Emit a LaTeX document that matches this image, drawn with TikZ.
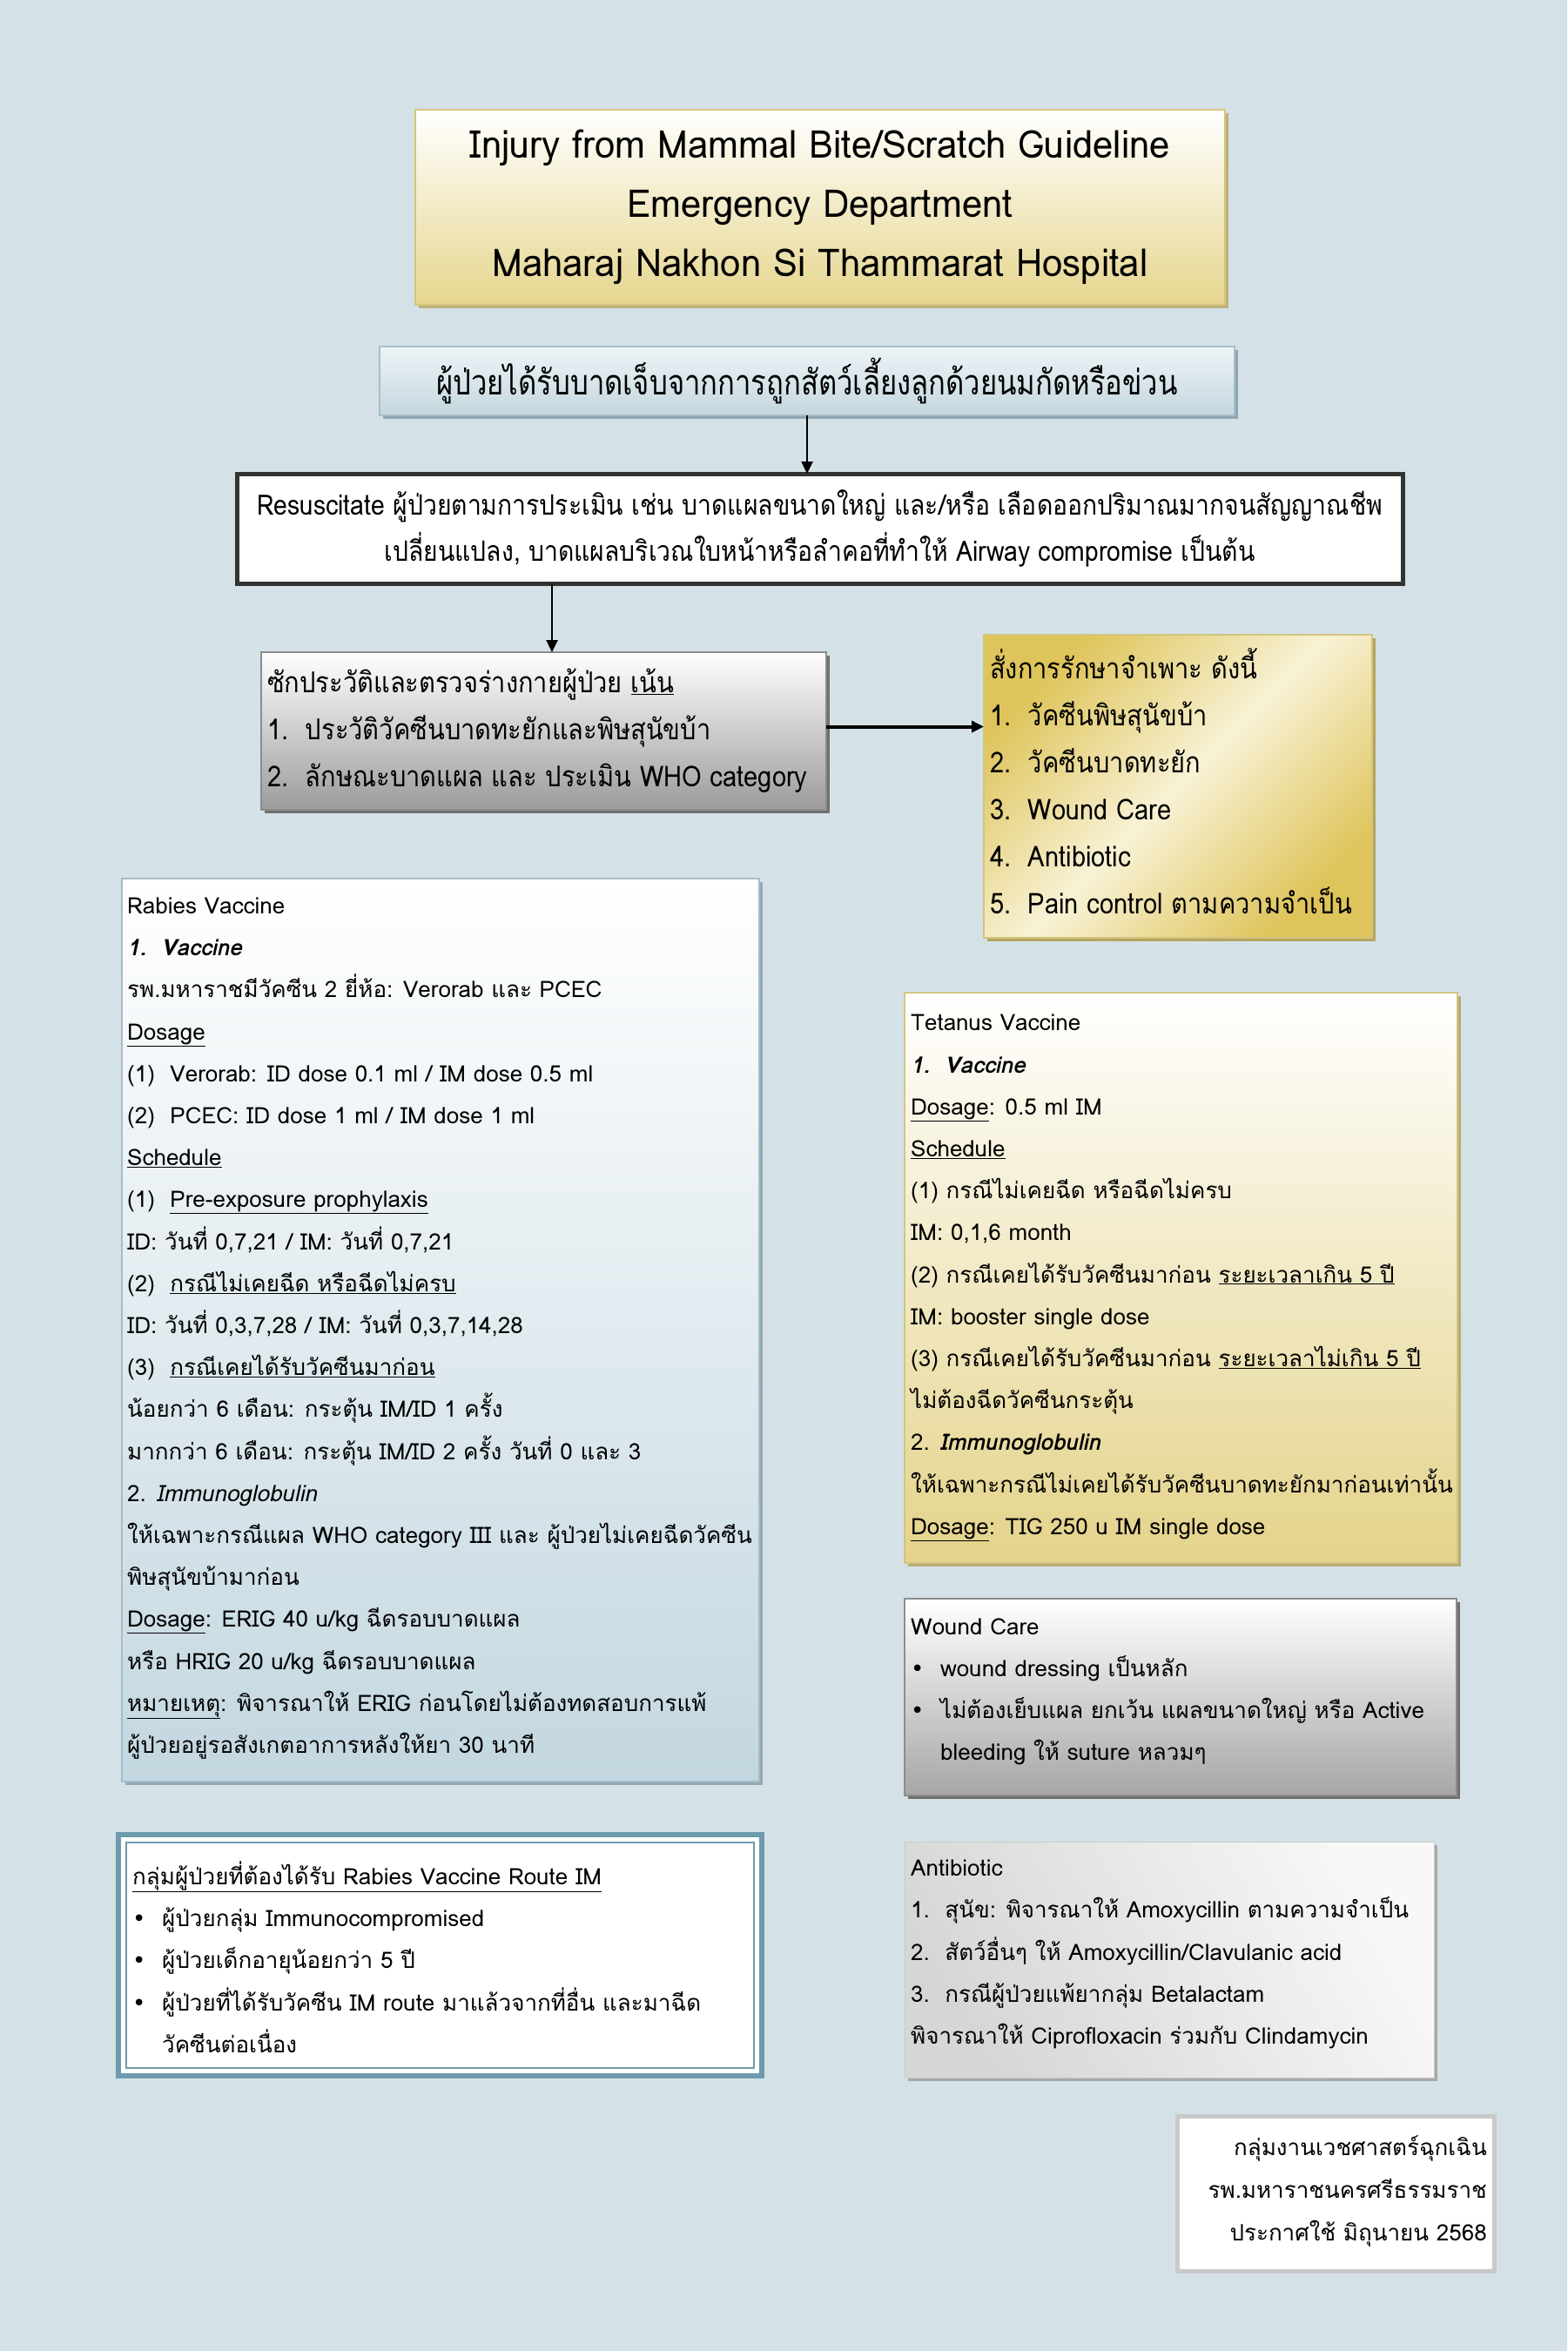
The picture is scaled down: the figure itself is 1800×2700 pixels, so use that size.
\documentclass[tikz,border=0pt]{standalone}
\usepackage{fontspec}
\setmainfont[Script=Thai]{Loma}
\newfontfamily\narrowf[Script=Thai,FakeStretch=0.82]{Loma}
\newfontfamily\midf[Script=Thai,FakeStretch=0.88]{Loma}
\newfontfamily\titlef[Script=Thai,FakeStretch=0.95]{Loma}
\newfontfamily\symf{DejaVu Sans}
\usetikzlibrary{shadows,arrows.meta,calc}
\definecolor{bg}{HTML}{D4E2E8}
\definecolor{titlebot}{HTML}{E6D68E}
\definecolor{titlebrd}{HTML}{D6C57C}
\definecolor{titlesh}{HTML}{BDB07A}
\definecolor{pattop}{HTML}{EEF4F7}
\definecolor{patbot}{HTML}{C4D7DF}
\definecolor{patbrd}{HTML}{A8BEC8}
\definecolor{patsh}{HTML}{8FA5B0}
\definecolor{resbrd}{HTML}{333333}
\definecolor{histbot}{HTML}{9B9B9B}
\definecolor{histbrd}{HTML}{8C8C8C}
\definecolor{greysh}{HTML}{707070}
\definecolor{gold}{HTML}{DEC45A}
\definecolor{goldmid}{HTML}{F8F2D6}
\definecolor{goldsh}{HTML}{B5A55E}
\definecolor{rabbot}{HTML}{C3D7E0}
\definecolor{rabbrd}{HTML}{A7BCC6}
\definecolor{rabsh}{HTML}{94A9B3}
\definecolor{tetbot}{HTML}{E4D38A}
\definecolor{tetbrd}{HTML}{D3C57F}
\definecolor{tetsh}{HTML}{B8AC74}
\definecolor{woundbot}{HTML}{A6A6A6}
\definecolor{imcol}{HTML}{6E9BAC}
\definecolor{antitop}{HTML}{F8F8F8}
\definecolor{antibot}{HTML}{D6D6D6}
\definecolor{antish}{HTML}{A8A8A8}
\definecolor{footbrd}{HTML}{C9C9C9}
\newcommand{\bul}{\makebox[34pt][l]{\symf •}}
\newcommand{\bodyfont}{\fontsize{26}{48.2}\selectfont}
\begin{document}
\begin{tikzpicture}[x=1pt,y=-1pt,
  boxbase/.style={anchor=north west, inner sep=0pt, outer sep=0pt},
  shd/.style={drop shadow={shadow xshift=4pt, shadow yshift=-4pt, fill=#1, opacity=1}},
  txt/.style={anchor=west, align=left, inner sep=0pt, font=\bodyfont},
  conn/.style={draw=black, line width=2.5pt, -{Triangle[length=14pt,width=13pt]}}
]
\fill[bg] (0,0) rectangle (1800,2700);
\useasboundingbox (0,0) rectangle (1800,2700);

% Title
\node[boxbase, minimum width=930pt, minimum height=224pt, draw=titlebrd, line width=1.5pt,
  top color=white, bottom color=titlebot, shd=titlesh, align=center,
  font=\titlef\fontsize{44}{68}\selectfont] (title) at (477,126)
  {Injury from Mammal Bite/Scratch Guideline\\Emergency Department\\Maharaj Nakhon Si Thammarat Hospital};

% Patient
\node[boxbase, minimum width=982pt, minimum height=79pt, draw=patbrd, line width=1.5pt,
  top color=pattop, bottom color=patbot, shd=patsh, align=center,
  font=\narrowf\fontsize{40}{48}\selectfont] (patient) at (436,398)
  {ผู้ป่วยได้รับบาดเจ็บจากการถูกสัตว์เลี้ยงลูกด้วยนมกัดหรือข่วน};

% Resuscitate
\node[boxbase, minimum width=1339pt, minimum height=126pt, draw=resbrd, line width=5pt,
  fill=white, align=center, font=\midf\fontsize{32.2}{53}\selectfont] (resus) at (272,544)
  {Resuscitate ผู้ป่วยตามการประเมิน เช่น บาดแผลขนาดใหญ่ และ/หรือ เลือดออกปริมาณมากจนสัญญาณชีพ\\
   เปลี่ยนแปลง, บาดแผลบริเวณใบหน้าหรือลำคอที่ทำให้ Airway compromise เป็นต้น};

% History
\node[boxbase, minimum width=649pt, minimum height=181pt, draw=histbrd, line width=1.5pt,
  top color=white, bottom color=histbot, shd=greysh] (hist) at (300,749) {};
\node[txt, font=\midf\fontsize{33}{54}\selectfont] (histt) at ([xshift=7pt]hist.west)
  {ซักประวัติและตรวจร่างกายผู้ป่วย \underline{เน้น}\\
   1.\ \ ประวัติวัคซีนบาดทะยักและพิษสุนัขบ้า\\
   2.\ \ ลักษณะบาดแผล และ ประเมิน WHO category};

% Treatment
\node[boxbase, minimum width=446pt, minimum height=348pt, draw=tetbrd, line width=1.5pt,
  left color=gold, right color=gold, middle color=goldmid, shading angle=45, shd=goldsh] (treat) at (1130,729) {};
\node[txt, font=\midf\fontsize{33}{54}\selectfont] (treatt) at ([xshift=7pt,yshift=6pt]treat.west)
  {สั่งการรักษาจำเพาะ ดังนี้\\
   1.\ \ วัคซีนพิษสุนัขบ้า\\
   2.\ \ วัคซีนบาดทะยัก\\
   3.\ \ Wound Care\\
   4.\ \ Antibiotic\\
   5.\ \ Pain control ตามความจำเป็น};

% Rabies
\node[boxbase, minimum width=732pt, minimum height=1037pt, draw=rabbrd, line width=1.5pt,
  top color=white, bottom color=rabbot, shd=rabsh] (rab) at (140,1009) {};
\node[txt] (rabt) at ([xshift=6pt,yshift=2pt]rab.west)
  {Rabies Vaccine\\
   {\bfseries\itshape 1.\ \ Vaccine}\\
   รพ.มหาราชมีวัคซีน 2 ยี่ห้อ: Verorab และ PCEC\\
   \underline{Dosage}\\
   (1)\ \ Verorab: ID dose 0.1 ml / IM dose 0.5 ml\\
   (2)\ \ PCEC: ID dose 1 ml / IM dose 1 ml\\
   \underline{Schedule}\\
   (1)\ \ \underline{Pre-exposure prophylaxis}\\
   ID: วันที่ 0,7,21 / IM: วันที่ 0,7,21\\
   (2)\ \ \underline{กรณีไม่เคยฉีด หรือฉีดไม่ครบ}\\
   ID: วันที่ 0,3,7,28 / IM: วันที่ 0,3,7,14,28\\
   (3)\ \ \underline{กรณีเคยได้รับวัคซีนมาก่อน}\\
   น้อยกว่า 6 เดือน: กระตุ้น IM/ID 1 ครั้ง\\
   มากกว่า 6 เดือน: กระตุ้น IM/ID 2 ครั้ง วันที่ 0 และ 3\\
   2. \textit{Immunoglobulin}\\
   ให้เฉพาะกรณีแผล WHO category III และ ผู้ป่วยไม่เคยฉีดวัคซีน\\
   พิษสุนัขบ้ามาก่อน\\
   \underline{Dosage}: ERIG 40 u/kg ฉีดรอบบาดแผล\\
   หรือ HRIG 20 u/kg ฉีดรอบบาดแผล\\
   \underline{หมายเหตุ}: พิจารณาให้ ERIG ก่อนโดยไม่ต้องทดสอบการแพ้\\
   ผู้ป่วยอยู่รอสังเกตอาการหลังให้ยา 30 นาที};

% Tetanus
\node[boxbase, minimum width=635pt, minimum height=655pt, draw=tetbrd, line width=1.5pt,
  top color=white, bottom color=tetbot, shd=tetsh] (tet) at (1039,1140) {};
\node[txt] (tett) at ([xshift=7pt]tet.west)
  {Tetanus Vaccine\\
   {\bfseries\itshape 1.\ \ Vaccine}\\
   \underline{Dosage}: 0.5 ml IM\\
   \underline{Schedule}\\
   (1) กรณีไม่เคยฉีด หรือฉีดไม่ครบ\\
   IM: 0,1,6 month\\
   (2) กรณีเคยได้รับวัคซีนมาก่อน \underline{ระยะเวลาเกิน 5 ปี}\\
   IM: booster single dose\\
   (3) กรณีเคยได้รับวัคซีนมาก่อน \underline{ระยะเวลาไม่เกิน 5 ปี}\\
   ไม่ต้องฉีดวัคซีนกระตุ้น\\
   2. {\bfseries\itshape Immunoglobulin}\\
   ให้เฉพาะกรณีไม่เคยได้รับวัคซีนบาดทะยักมาก่อนเท่านั้น\\
   \underline{Dosage}: TIG 250 u IM single dose};

% Wound care
\node[boxbase, minimum width=634pt, minimum height=226pt, draw=histbrd, line width=1.5pt,
  top color=white, bottom color=woundbot, shd=greysh] (wound) at (1039,1836) {};
\node[txt] (woundt) at ([xshift=7pt,yshift=6pt]wound.west)
  {Wound Care\\
   \bul wound dressing เป็นหลัก\\
   \bul ไม่ต้องเย็บแผล ยกเว้น แผลขนาดใหญ่ หรือ Active\\
   \hspace*{34pt}bleeding ให้ suture หลวมๆ};

% IM group
\node[boxbase, minimum width=739pt, minimum height=277pt, draw=imcol, line width=6pt,
  fill=white] (im) at (136,2107) {};
\draw[imcol, line width=1.5pt] ([shift={(9pt,-9pt)}]im.north west) rectangle ([shift={(-9pt,9pt)}]im.south east);
\node[txt] (imt) at ([xshift=16pt,yshift=-2pt]im.west)
  {\underline{กลุ่มผู้ป่วยที่ต้องได้รับ Rabies Vaccine Route IM}\\
   \bul ผู้ป่วยกลุ่ม Immunocompromised\\
   \bul ผู้ป่วยเด็กอายุน้อยกว่า 5 ปี\\
   \bul ผู้ป่วยที่ได้รับวัคซีน IM route มาแล้วจากที่อื่น และมาฉีด\\
   \hspace*{34pt}วัคซีนต่อเนื่อง};

% Antibiotic
\node[boxbase, minimum width=608pt, minimum height=271pt, draw=footbrd, line width=1pt,
  left color=antitop, right color=antibot, shading angle=-60, shd=antish] (anti) at (1039,2115) {};
\node[txt] (antit) at ([xshift=7pt,yshift=6pt]anti.west)
  {Antibiotic\\
   1.\ \ สุนัข: พิจารณาให้ Amoxycillin ตามความจำเป็น\\
   2.\ \ สัตว์อื่นๆ ให้ Amoxycillin/Clavulanic acid\\
   3.\ \ กรณีผู้ป่วยแพ้ยากลุ่ม Betalactam\\
   พิจารณาให้ Ciprofloxacin ร่วมกับ Clindamycin};

% Footer
\node[boxbase, minimum width=364pt, minimum height=178pt, draw=footbrd, line width=5pt,
  fill=white] (foot) at (1352,2430) {};
\node[anchor=east, align=right, inner sep=0pt, font=\fontsize{26}{49}\selectfont] (foott)
  at ([xshift=-8pt,yshift=3pt]foot.east)
  {กลุ่มงานเวชศาสตร์ฉุกเฉิน\\
   รพ.มหาราชนครศรีธรรมราช\\
   ประกาศใช้ มิถุนายน 2568};

% Connectors
\draw[conn] (patient.south) -- (patient.south |- resus.north);
\coordinate (c2) at ($(resus.south west)+(362,0)$);
\draw[conn] (c2) -- (c2 |- hist.north);
\draw[conn, line width=4pt] ([yshift=5pt]hist.east) -- ([yshift=5pt]hist.east -| treat.west);
\end{tikzpicture}
\end{document}
